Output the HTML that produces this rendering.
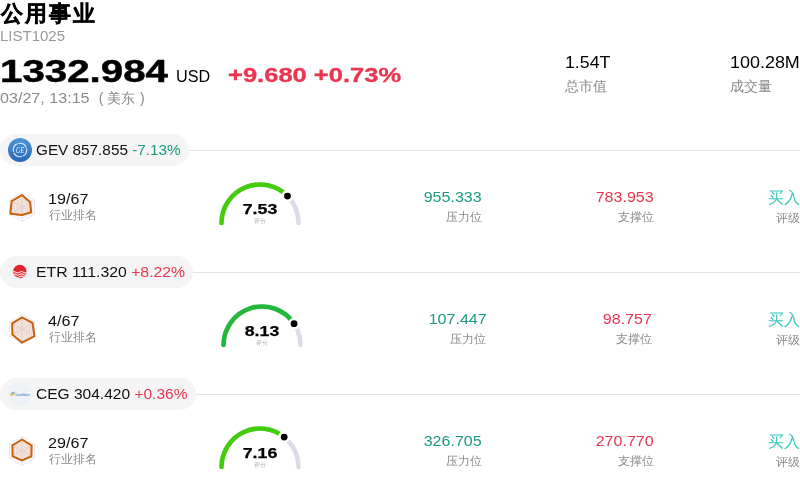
<!DOCTYPE html>
<html><head><meta charset="utf-8"><style>
html,body{margin:0;padding:0;background:#fff}
body{width:800px;height:488px;overflow:hidden;position:relative;font-family:"Liberation Sans", sans-serif}
.t{position:absolute;white-space:nowrap}
.pill{position:absolute;left:0;height:32px;background:#f5f5f5;border-radius:16px}
.hl{position:absolute;right:0;height:1px;background:#e3e3ec}
.wrap{position:absolute;left:0;top:0;width:800px;height:488px;overflow:hidden;will-change:transform}
</style></head><body><div class="wrap">
<div id="e1" class="t" style="left:1px;top:2.59px;font-size:22px;line-height:22px;color:#000;font-weight:bold;letter-spacing:2px;-webkit-text-stroke:0.35px #000;">公用事业</div>
<div id="e2" class="t L" style="left:0px;top:29.16px;font-size:14px;line-height:14px;color:#999;transform:scaleX(1.0705);transform-origin:left 0;">LIST1025</div>
<div id="e3" class="t L" style="left:0px;top:54.93px;font-size:32px;line-height:32px;color:#000;font-weight:bold;transform:scaleX(1.2588);transform-origin:left 0;-webkit-text-stroke:0.5px #000;">1332.984</div>
<div id="e4" class="t L" style="left:176px;top:69.46px;font-size:16px;line-height:16px;color:#000;transform:scaleX(1.0120);transform-origin:left 0;">USD</div>
<div id="e5" class="t L" style="left:227.5px;top:65.08px;font-size:20px;line-height:20px;color:#ea3650;font-weight:bold;transform:scaleX(1.2759);transform-origin:left 0;-webkit-text-stroke:0.3px #ea3650;">+9.680 +0.73%</div>
<div id="e6" class="t L" style="left:0px;top:91.16px;font-size:14px;line-height:14px;color:#8a8a8a;transform:scaleX(1.1507);transform-origin:left 0;">03/27, 13:15</div>
<div id="e7" class="t" style="left:-49px;width:300px;text-align:center;top:91.16px;font-size:14px;line-height:14px;color:#8a8a8a;">(</div>
<div id="e8" class="t" style="left:107.4px;top:91.16px;font-size:14px;line-height:14px;color:#8a8a8a;">美东</div>
<div id="e9" class="t" style="left:-7.599999999999994px;width:300px;text-align:center;top:91.16px;font-size:14px;line-height:14px;color:#8a8a8a;">)</div>
<div id="e10" class="t L" style="left:565px;top:55.46px;font-size:16px;line-height:16px;color:#000;transform:scaleX(1.1096);transform-origin:left 0;">1.54T</div>
<div id="e11" class="t" style="left:565px;top:78.86px;font-size:14px;line-height:14px;color:#8a8a8a;">总市值</div>
<div id="e12" class="t L" style="left:730px;top:55.46px;font-size:16px;line-height:16px;color:#000;transform:scaleX(1.1210);transform-origin:left 0;">100.28M</div>
<div id="e13" class="t" style="left:730px;top:78.86px;font-size:14px;line-height:14px;color:#8a8a8a;">成交量</div>
<div class="pill" style="top:134px;width:189px"></div>
<div class="hl" style="top:150px;left:189px"></div>
<div style="position:absolute;left:8px;top:138px;width:24px;height:24px"><svg width="24" height="24" viewBox="0 0 24 24"><defs><linearGradient id="gb" x1="0" y1="0" x2="0" y2="1"><stop offset="0" stop-color="#4f97d8"/><stop offset="1" stop-color="#2866b8"/></linearGradient></defs><circle cx="12" cy="12" r="12" fill="url(#gb)"/><circle cx="12" cy="12" r="6.7" fill="none" stroke="#f4f8fd" stroke-width="1.1" stroke-dasharray="9.6 0.93" stroke-dashoffset="2" opacity="0.9"/><text x="12.1" y="14.9" text-anchor="middle" font-size="8.2" font-family="Liberation Serif" font-style="italic" fill="#fff" opacity="0.95" textLength="8" lengthAdjust="spacingAndGlyphs">GE</text></svg></div>
<div id="e14" class="t L" style="left:36px;top:143.16px;font-size:14px;line-height:14px;color:#111;transform:scaleX(1.0933);transform-origin:left 0;">GEV 857.855 <span style="color:#1a9a80">-7.13%</span></div>
<svg style="position:absolute;left:0;top:185px" width="44" height="44" viewBox="0 0 44 44"><polygon points="22.00,19.12 24.49,20.56 24.49,23.44 22.00,24.88 19.51,23.44 19.51,20.56" fill="none" stroke="#dde0ef" stroke-width="0.8"/><polygon points="22.00,16.24 26.99,19.12 26.99,24.88 22.00,27.76 17.01,24.88 17.01,19.12" fill="none" stroke="#dde0ef" stroke-width="0.8"/><polygon points="22.00,13.36 29.48,17.68 29.48,26.32 22.00,30.64 14.52,26.32 14.52,17.68" fill="none" stroke="#dde0ef" stroke-width="0.8"/><polygon points="22.00,10.48 31.98,16.24 31.98,27.76 22.00,33.52 12.02,27.76 12.02,16.24" fill="none" stroke="#dde0ef" stroke-width="0.8"/><polygon points="22.00,7.60 34.47,14.80 34.47,29.20 22.00,36.40 9.53,29.20 9.53,14.80" fill="none" stroke="#dde0ef" stroke-width="0.8"/><line x1="22" y1="22" x2="22.00" y2="7.60" stroke="#dde0ef" stroke-width="0.8"/><line x1="22" y1="22" x2="34.47" y2="14.80" stroke="#dde0ef" stroke-width="0.8"/><line x1="22" y1="22" x2="34.47" y2="29.20" stroke="#dde0ef" stroke-width="0.8"/><line x1="22" y1="22" x2="22.00" y2="36.40" stroke="#dde0ef" stroke-width="0.8"/><line x1="22" y1="22" x2="9.53" y2="29.20" stroke="#dde0ef" stroke-width="0.8"/><line x1="22" y1="22" x2="9.53" y2="14.80" stroke="#dde0ef" stroke-width="0.8"/><polygon points="22.00,10.05 30.11,17.32 31.23,27.33 22.00,29.92 10.40,28.70 11.65,16.02" fill="rgba(222,110,30,0.16)" stroke="#c9610c" stroke-width="2" stroke-linejoin="round"/></svg>
<div id="e15" class="t L" style="left:48px;top:192.16px;font-size:14px;line-height:14px;color:#111;transform:scaleX(1.1516);transform-origin:left 0;">19/67</div>
<div id="e16" class="t" style="left:48.5px;top:209.15px;font-size:12px;line-height:12px;color:#8a8a8a;">行业排名</div>
<svg style="position:absolute;left:210px;top:172.8px" width="100" height="60" viewBox="210 172.8 100 60"><path d="M221.5 222.8 A38.5 38.5 0 0 1 298.5 222.8" fill="none" stroke="#dcdce8" stroke-width="4.6" stroke-linecap="round"/><path d="M221.5 222.8 A38.5 38.5 0 0 1 287.48 195.83" fill="none" stroke="#42cd0b" stroke-width="4.6" stroke-linecap="round"/><circle cx="287.48" cy="195.83" r="4.7" fill="#000" stroke="#fff" stroke-width="2.6"/></svg>
<div id="e17" class="t L" style="left:110px;width:300px;text-align:center;top:202.16px;font-size:14px;line-height:14px;color:#000;font-weight:bold;transform:scaleX(1.2678);transform-origin:center 0;-webkit-text-stroke:0.25px #000;">7.53</div>
<div id="e18" class="t" style="left:110px;width:300px;text-align:center;top:217.62px;font-size:6px;line-height:6px;color:#b0b0b0;">评分</div>
<div id="e19" class="t L" style="right:318px;top:190.16px;font-size:14px;line-height:14px;color:#1a9a80;transform:scaleX(1.1442);transform-origin:right 0;">955.333</div>
<div id="e20" class="t" style="right:318px;top:211.05px;font-size:12px;line-height:12px;color:#8a8a8a;">压力位</div>
<div id="e21" class="t L" style="right:146px;top:190.16px;font-size:14px;line-height:14px;color:#ea3650;transform:scaleX(1.1442);transform-origin:right 0;">783.953</div>
<div id="e22" class="t" style="right:146px;top:211.05px;font-size:12px;line-height:12px;color:#8a8a8a;">支撑位</div>
<div id="e23" class="t" style="right:0px;top:189.96px;font-size:16px;line-height:16px;color:#3cc8c0;">买入</div>
<div id="e24" class="t" style="right:0px;top:211.85px;font-size:12px;line-height:12px;color:#8a8a8a;">评级</div>
<div class="pill" style="top:256px;width:193px"></div>
<div class="hl" style="top:272px;left:193px"></div>
<div style="position:absolute;left:8px;top:260px;width:24px;height:24px"><svg width="24" height="24" viewBox="0 0 24 24"><circle cx="12" cy="12" r="12" fill="#f2f4f7"/><clipPath id="ec"><circle cx="11.8" cy="11.5" r="6.7"/></clipPath><g clip-path="url(#ec)"><rect x="0" y="0" width="24" height="24" fill="#e1232a"/><path d="M4 12.2 q1.9 -1.3 3.8 0 t3.8 0 t3.8 0 t3.8 0 M4 14.5 q1.9 -1.3 3.8 0 t3.8 0 t3.8 0 t3.8 0 M4 16.8 q1.9 -1.3 3.8 0 t3.8 0 t3.8 0 t3.8 0" stroke="#fff" stroke-opacity="0.85" stroke-width="1.05" fill="none"/></g></svg></div>
<div id="e25" class="t L" style="left:36px;top:265.16px;font-size:14px;line-height:14px;color:#111;transform:scaleX(1.1284);transform-origin:left 0;">ETR 111.320 <span style="color:#ea3650">+8.22%</span></div>
<svg style="position:absolute;left:0;top:307px" width="44" height="44" viewBox="0 0 44 44"><polygon points="22.00,19.12 24.49,20.56 24.49,23.44 22.00,24.88 19.51,23.44 19.51,20.56" fill="none" stroke="#dde0ef" stroke-width="0.8"/><polygon points="22.00,16.24 26.99,19.12 26.99,24.88 22.00,27.76 17.01,24.88 17.01,19.12" fill="none" stroke="#dde0ef" stroke-width="0.8"/><polygon points="22.00,13.36 29.48,17.68 29.48,26.32 22.00,30.64 14.52,26.32 14.52,17.68" fill="none" stroke="#dde0ef" stroke-width="0.8"/><polygon points="22.00,10.48 31.98,16.24 31.98,27.76 22.00,33.52 12.02,27.76 12.02,16.24" fill="none" stroke="#dde0ef" stroke-width="0.8"/><polygon points="22.00,7.60 34.47,14.80 34.47,29.20 22.00,36.40 9.53,29.20 9.53,14.80" fill="none" stroke="#dde0ef" stroke-width="0.8"/><line x1="22" y1="22" x2="22.00" y2="7.60" stroke="#dde0ef" stroke-width="0.8"/><line x1="22" y1="22" x2="34.47" y2="14.80" stroke="#dde0ef" stroke-width="0.8"/><line x1="22" y1="22" x2="34.47" y2="29.20" stroke="#dde0ef" stroke-width="0.8"/><line x1="22" y1="22" x2="22.00" y2="36.40" stroke="#dde0ef" stroke-width="0.8"/><line x1="22" y1="22" x2="9.53" y2="29.20" stroke="#dde0ef" stroke-width="0.8"/><line x1="22" y1="22" x2="9.53" y2="14.80" stroke="#dde0ef" stroke-width="0.8"/><polygon points="22.00,10.48 32.48,15.95 34.47,29.20 22.00,35.68 12.40,27.54 12.15,16.31" fill="rgba(222,110,30,0.16)" stroke="#c9610c" stroke-width="2" stroke-linejoin="round"/></svg>
<div id="e26" class="t L" style="left:48px;top:314.16px;font-size:14px;line-height:14px;color:#111;transform:scaleX(1.1542);transform-origin:left 0;">4/67</div>
<div id="e27" class="t" style="left:48.5px;top:331.15px;font-size:12px;line-height:12px;color:#8a8a8a;">行业排名</div>
<svg style="position:absolute;left:212.23000000000002px;top:294.8px" width="100" height="60" viewBox="212.23000000000002 294.8 100 60"><path d="M223.73000000000002 344.8 A38.5 38.5 0 0 1 300.73 344.8" fill="none" stroke="#dcdce8" stroke-width="4.6" stroke-linecap="round"/><path d="M223.73000000000002 344.8 A38.5 38.5 0 0 1 294.28 323.46" fill="none" stroke="#22b83a" stroke-width="4.6" stroke-linecap="round"/><circle cx="294.28" cy="323.46" r="4.7" fill="#000" stroke="#fff" stroke-width="2.6"/></svg>
<div id="e28" class="t L" style="left:112.23000000000002px;width:300px;text-align:center;top:324.16px;font-size:14px;line-height:14px;color:#000;font-weight:bold;transform:scaleX(1.2678);transform-origin:center 0;-webkit-text-stroke:0.25px #000;">8.13</div>
<div id="e29" class="t" style="left:112.23000000000002px;width:300px;text-align:center;top:339.62px;font-size:6px;line-height:6px;color:#b0b0b0;">评分</div>
<div id="e30" class="t L" style="right:313.55px;top:312.16px;font-size:14px;line-height:14px;color:#1a9a80;transform:scaleX(1.1442);transform-origin:right 0;">107.447</div>
<div id="e31" class="t" style="right:313.55px;top:333.05px;font-size:12px;line-height:12px;color:#8a8a8a;">压力位</div>
<div id="e32" class="t L" style="right:148.23000000000002px;top:312.16px;font-size:14px;line-height:14px;color:#ea3650;transform:scaleX(1.1441);transform-origin:right 0;">98.757</div>
<div id="e33" class="t" style="right:148.23000000000002px;top:333.05px;font-size:12px;line-height:12px;color:#8a8a8a;">支撑位</div>
<div id="e34" class="t" style="right:0px;top:311.96px;font-size:16px;line-height:16px;color:#3cc8c0;">买入</div>
<div id="e35" class="t" style="right:0px;top:333.85px;font-size:12px;line-height:12px;color:#8a8a8a;">评级</div>
<div class="pill" style="top:378px;width:196px"></div>
<div class="hl" style="top:394px;left:196px"></div>
<div style="position:absolute;left:8px;top:382px;width:24px;height:24px"><svg width="24" height="24" viewBox="0 0 24 24"><circle cx="12" cy="12" r="12" fill="#eef1f5"/><path d="M2.2 13.4 l4.2 -1.3" stroke="#f3a531" stroke-width="0.9"/><path d="M2.4 12.5 l4.2 -1.4" stroke="#79c143" stroke-width="0.8"/><path d="M3.2 11.1 l3.6 -1.1" stroke="#3b82d6" stroke-width="0.7"/><text x="7.2" y="13.6" font-size="3.3" font-family="Liberation Sans" font-weight="bold" fill="#5b8fd6" textLength="14.6" lengthAdjust="spacingAndGlyphs">Constellation</text></svg></div>
<div id="e36" class="t L" style="left:36px;top:387.16px;font-size:14px;line-height:14px;color:#111;transform:scaleX(1.1090);transform-origin:left 0;">CEG 304.420 <span style="color:#ea3650">+0.36%</span></div>
<svg style="position:absolute;left:0;top:429px" width="44" height="44" viewBox="0 0 44 44"><polygon points="22.00,19.12 24.49,20.56 24.49,23.44 22.00,24.88 19.51,23.44 19.51,20.56" fill="none" stroke="#dde0ef" stroke-width="0.8"/><polygon points="22.00,16.24 26.99,19.12 26.99,24.88 22.00,27.76 17.01,24.88 17.01,19.12" fill="none" stroke="#dde0ef" stroke-width="0.8"/><polygon points="22.00,13.36 29.48,17.68 29.48,26.32 22.00,30.64 14.52,26.32 14.52,17.68" fill="none" stroke="#dde0ef" stroke-width="0.8"/><polygon points="22.00,10.48 31.98,16.24 31.98,27.76 22.00,33.52 12.02,27.76 12.02,16.24" fill="none" stroke="#dde0ef" stroke-width="0.8"/><polygon points="22.00,7.60 34.47,14.80 34.47,29.20 22.00,36.40 9.53,29.20 9.53,14.80" fill="none" stroke="#dde0ef" stroke-width="0.8"/><line x1="22" y1="22" x2="22.00" y2="7.60" stroke="#dde0ef" stroke-width="0.8"/><line x1="22" y1="22" x2="34.47" y2="14.80" stroke="#dde0ef" stroke-width="0.8"/><line x1="22" y1="22" x2="34.47" y2="29.20" stroke="#dde0ef" stroke-width="0.8"/><line x1="22" y1="22" x2="22.00" y2="36.40" stroke="#dde0ef" stroke-width="0.8"/><line x1="22" y1="22" x2="9.53" y2="29.20" stroke="#dde0ef" stroke-width="0.8"/><line x1="22" y1="22" x2="9.53" y2="14.80" stroke="#dde0ef" stroke-width="0.8"/><polygon points="22.00,10.48 31.60,16.46 31.35,27.40 22.00,31.36 12.65,27.40 12.40,16.46" fill="rgba(222,110,30,0.16)" stroke="#c9610c" stroke-width="2" stroke-linejoin="round"/></svg>
<div id="e37" class="t L" style="left:48px;top:436.16px;font-size:14px;line-height:14px;color:#111;transform:scaleX(1.1516);transform-origin:left 0;">29/67</div>
<div id="e38" class="t" style="left:48.5px;top:453.15px;font-size:12px;line-height:12px;color:#8a8a8a;">行业排名</div>
<svg style="position:absolute;left:210px;top:416.8px" width="100" height="60" viewBox="210 416.8 100 60"><path d="M221.5 466.8 A38.5 38.5 0 0 1 298.5 466.8" fill="none" stroke="#dcdce8" stroke-width="4.6" stroke-linecap="round"/><path d="M221.5 466.8 A38.5 38.5 0 0 1 284.17 436.83" fill="none" stroke="#42cd0b" stroke-width="4.6" stroke-linecap="round"/><circle cx="284.17" cy="436.83" r="4.7" fill="#000" stroke="#fff" stroke-width="2.6"/></svg>
<div id="e39" class="t L" style="left:110px;width:300px;text-align:center;top:446.16px;font-size:14px;line-height:14px;color:#000;font-weight:bold;transform:scaleX(1.2678);transform-origin:center 0;-webkit-text-stroke:0.25px #000;">7.16</div>
<div id="e40" class="t" style="left:110px;width:300px;text-align:center;top:461.62px;font-size:6px;line-height:6px;color:#b0b0b0;">评分</div>
<div id="e41" class="t L" style="right:318px;top:434.16px;font-size:14px;line-height:14px;color:#1a9a80;transform:scaleX(1.1442);transform-origin:right 0;">326.705</div>
<div id="e42" class="t" style="right:318px;top:455.05px;font-size:12px;line-height:12px;color:#8a8a8a;">压力位</div>
<div id="e43" class="t L" style="right:146px;top:434.16px;font-size:14px;line-height:14px;color:#ea3650;transform:scaleX(1.1442);transform-origin:right 0;">270.770</div>
<div id="e44" class="t" style="right:146px;top:455.05px;font-size:12px;line-height:12px;color:#8a8a8a;">支撑位</div>
<div id="e45" class="t" style="right:0px;top:433.96px;font-size:16px;line-height:16px;color:#3cc8c0;">买入</div>
<div id="e46" class="t" style="right:0px;top:455.85px;font-size:12px;line-height:12px;color:#8a8a8a;">评级</div>

</div></body></html>
